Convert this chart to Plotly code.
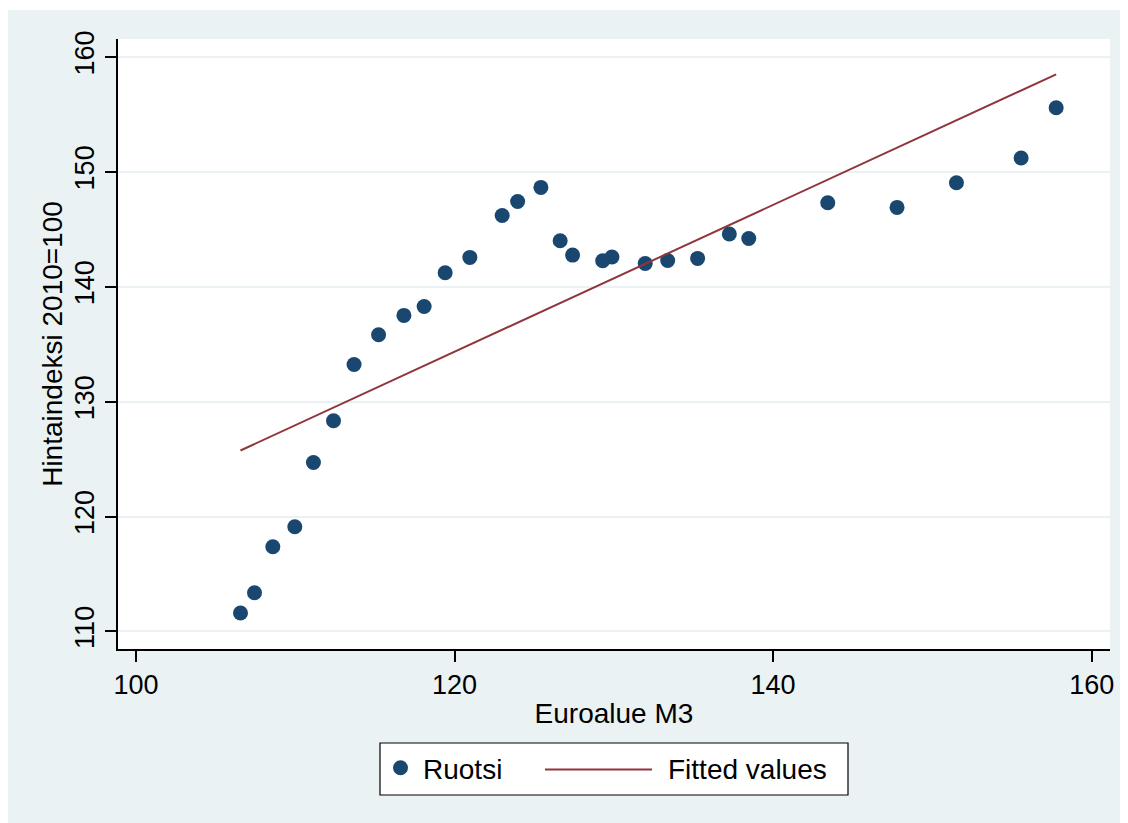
import numpy as np
import plotly.graph_objects as go

# Data
euro_m3 = [106.56, 107.44, 108.59, 109.97, 111.14, 112.40, 113.69, 115.23, 116.82, 118.09,
           119.41, 120.96, 122.99, 123.96, 125.42, 126.63, 127.41, 129.30, 129.88, 131.97,
           133.38, 135.26, 137.25, 138.47, 143.43, 147.78, 151.51, 155.57, 157.77]
ruotsi = [111.60, 113.37, 117.37, 119.11, 124.71, 128.34, 133.24, 135.83, 137.51, 138.29,
          141.22, 142.56, 146.21, 147.43, 148.65, 144.01, 142.76, 142.27, 142.59, 142.03,
          142.29, 142.47, 144.59, 144.21, 147.32, 146.91, 149.06, 151.21, 155.59]
x_ticks = [100, 120, 140, 160]
y_ticks = [110, 120, 130, 140, 150, 160]

# OLS fitted values
xs = np.array(euro_m3)
ys = np.array(ruotsi)
slope, intercept = np.polyfit(xs, ys, 1)
order = np.argsort(xs)
fit_x = xs[order]
fit_y = intercept + slope * fit_x

BG = "#EAF2F3"
NAVY = "#1A476F"
MAROON = "#90353B"
FONT = "Liberation Sans, Arial, sans-serif"

fig = go.Figure()
fig.add_trace(go.Scatter(x=euro_m3, y=ruotsi, mode="markers", name="Ruotsi",
                         marker=dict(color=NAVY, size=15, line=dict(width=0))))
fig.add_trace(go.Scatter(x=fit_x, y=fit_y, mode="lines", name="Fitted values",
                         legendgroup="fit", showlegend=False,
                         line=dict(color=MAROON, width=2)))
# legend entry for the fitted line; its long Stata-style key is drawn as a shape below
fig.add_trace(go.Scatter(x=[None], y=[None], mode="lines", name="Fitted values",
                         legendgroup="fit", showlegend=True, hoverinfo="skip",
                         line=dict(color=MAROON, width=0)))

# page has an 8px body margin, so the figure is 1120x815
W, H = 1120, 815
L, R, T, B = 110, 18, 31, 174
PX0, PY0 = 118, 649          # plot-area origin in page pixels
PW, PH = W - L - R, H - T - B


def px(x):
    return (x - PX0) / PW


def py(y):
    return (PY0 - y) / PH


fig.update_layout(
    width=W, height=H,
    margin=dict(l=L, r=R, t=T, b=B, pad=0),
    paper_bgcolor=BG, plot_bgcolor="white",
    font=dict(family=FONT, color="black", size=27),
    showlegend=True,
    legend=dict(orientation="h", x=px(378), xanchor="left",
                xref="paper", yref="container", y=1 - 760 / H, yanchor="middle",
                bgcolor="rgba(0,0,0,0)", borderwidth=0,
                font=dict(size=28, family=FONT, color="black"),
                itemwidth=35, entrywidth=195, tracegroupgap=0),
    xaxis=dict(range=[98.87, 161.15], tickvals=x_ticks, showgrid=False, zeroline=False,
               showline=True, linecolor="black", linewidth=1.5,
               ticks="outside", ticklen=11, tickwidth=1.5, tickcolor="black",
               tickfont=dict(size=27), ticklabelstandoff=0,
               title=dict(text="Euroalue M3", font=dict(size=28), standoff=4)),
    yaxis=dict(range=[108.47, 161.57], tickvals=y_ticks, showgrid=True, gridcolor=BG,
               gridwidth=1.5, zeroline=False,
               showline=True, linecolor="black", linewidth=1.5,
               ticks="outside", ticklen=11, tickwidth=1.5, tickcolor="black",
               tickangle=-90, tickfont=dict(size=27), ticklabelstandoff=0,
               title=dict(text="Hintaindeksi 2010=100", font=dict(size=28), standoff=0)),
    shapes=[
        # legend frame
        dict(type="rect", xref="paper", yref="paper", layer="above",
             x0=px(380), x1=px(848), y0=py(795), y1=py(743),
             fillcolor="white", line=dict(color="black", width=1.2)),
        # long legend key for the fitted line (Stata style)
        dict(type="line", xref="paper", yref="paper", layer="above",
             x0=px(545), x1=px(652), y0=py(769.5), y1=py(769.5),
             line=dict(color=MAROON, width=2)),
        # thin white strip at the top of the page
        dict(type="rect", xref="paper", yref="paper", layer="above",
             x0=px(0), x1=px(1130), y0=py(10), y1=py(7),
             fillcolor="white", line=dict(width=0)),
    ],
)

fig.write_html("out.html")
